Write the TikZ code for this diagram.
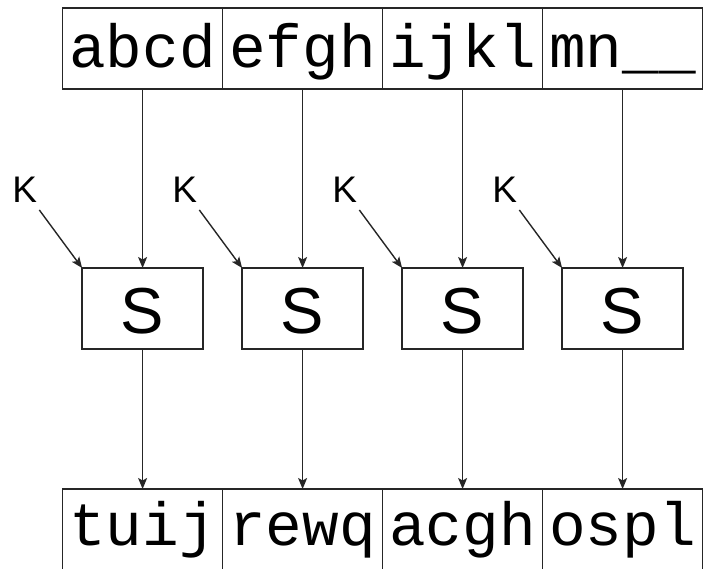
\documentclass[tikz,border=0pt]{standalone}
\usepackage{fontspec}
\setmainfont{Liberation Sans}
\newfontfamily\monofnt{Liberation Mono}
\usetikzlibrary{arrows.meta}
\definecolor{ln}{HTML}{262626}
\tikzset{
  cell/.style={draw=ln, line width=1.5pt, inner sep=0pt, outer sep=0pt, minimum width=160pt,
    text height=#1, font=\monofnt\fontsize{61}{61}\selectfont},
  topcell/.style={cell=59pt, text depth=22pt},
  botcell/.style={cell=56pt, text depth=25pt},
  sbox/.style={draw=ln, line width=1.5pt, inner sep=0pt, outer sep=0pt, minimum width=121pt,
    text height=65pt, text depth=16pt, font=\fontsize{65}{65}\selectfont},
  klab/.style={inner sep=3pt, font=\fontsize{37}{37}\selectfont},
  arr/.style={draw=ln, line width=1.4pt, -{Stealth[length=11pt,width=9pt,inset=2.5pt]}}
}
\begin{document}
\begin{tikzpicture}[x=1pt,y=-1pt]
\useasboundingbox (0,0) rectangle (704,568);
% top row
\node[topcell,anchor=north west] (t1) at (62.6,8) {abcd};
\node[topcell,anchor=north west] (t2) at (t1.north east) {efgh};
\node[topcell,anchor=north west] (t3) at (t2.north east) {ijkl};
\node[topcell,anchor=north west] (t4) at (t3.north east) {mn\_\_};
% bottom row
\node[botcell,anchor=north west] (b1) at (62.6,489) {tuij};
\node[botcell,anchor=north west] (b2) at (b1.north east) {rewq};
\node[botcell,anchor=north west] (b3) at (b2.north east) {acgh};
\node[botcell,anchor=north west] (b4) at (b3.north east) {ospl};
% S boxes and keys
\foreach \i in {1,2,3,4}{
  \node[sbox] (s\i) at (t\i.center |- 0,308.5) {S};
  \node[klab,anchor=center] (k\i) at ([xshift=-118pt]s\i.center |- 0,190) {K};
}
% connectors
\foreach \i in {1,2,3,4}{
  \draw[arr] (t\i.south) -- (s\i.north);
  \draw[arr] (s\i.south) -- (b\i.north);
  \draw[arr, shorten <=5pt] (k\i) -- (s\i.north west);
}
\end{tikzpicture}
\end{document}
